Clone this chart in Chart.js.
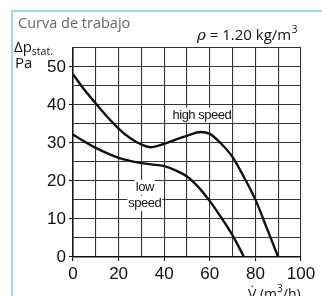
<!DOCTYPE html>
<html><head><meta charset="utf-8">
<script src="https://cdn.jsdelivr.net/npm/chart.js@4/dist/chart.umd.min.js"></script>
<style>html,body{margin:0;padding:0;background:#fff;}canvas{display:block;}</style>
</head><body>
<canvas id="c" width="322" height="296"></canvas>
<script>
// Data
const highFlow = [0, 5, 10, 15, 20, 25, 30, 34, 40, 45, 50, 56, 60, 65, 70, 75, 80, 85, 90];
const highPressure = [48.1, 44, 40.4, 36.9, 33.8, 31.3, 29.6, 28.9, 29.8, 30.9, 31.9, 32.9, 32.4, 29.8, 26.3, 21, 15.1, 7.6, 0];
const lowFlow = [0, 10, 20, 30, 40, 45, 50, 55, 60, 65, 70, 75];
const lowPressure = [32.2, 28.7, 26.1, 24.7, 23.9, 22.8, 21.2, 18.4, 14.7, 10.4, 5.7, 0];
const xTickLabels = [0, 20, 40, 60, 80, 100];
const yTickLabels = [0, 10, 20, 30, 40, 50];

const toPts = (xs, ys) => xs.map((x, i) => ({x: x, y: ys[i]}));

const textPlugin = {
  id: 'texts',
  beforeDraw(chart) {
    const ctx = chart.ctx;
    ctx.save();
    ctx.fillStyle = '#fff';
    ctx.fillRect(0, 0, chart.width, chart.height);
    ctx.strokeStyle = '#9fd8f0';
    ctx.lineWidth = 2;
    ctx.strokeRect(12, 11, 400, 400);
    ctx.restore();
  },
  afterDraw(chart) {
    const ctx = chart.ctx;
    ctx.save();
    ctx.textBaseline = 'alphabetic';
    ctx.fillStyle = '#666';
    ctx.font = '14.5px "Open Sans"';
    ctx.textAlign = 'left';
    ctx.fillText('Curva de trabajo', 18, 28);
    ctx.fillStyle = '#111';
    ctx.font = 'italic 15px "DejaVu Serif"';
    ctx.fillText('\u03C1', 197, 40);
    const wr = ctx.measureText('\u03C1').width;
    ctx.font = '15px "Open Sans"';
    ctx.fillText(' = 1.20 kg/m', 197 + wr, 40);
    const w = wr + ctx.measureText(' = 1.20 kg/m').width;
    ctx.font = '10px "Open Sans"';
    ctx.fillText('3', 197 + w + 0.5, 33);
    // y axis title
    ctx.font = '15px "Open Sans"';
    ctx.fillText('\u0394p', 14, 52);
    const w2 = ctx.measureText('\u0394p').width;
    ctx.font = '10.5px "Open Sans"';
    ctx.fillText('stat.', 14 + w2, 55);
    ctx.font = '15px "Open Sans"';
    ctx.fillText('Pa', 15, 68);
    // x axis title
    ctx.font = '14px "Open Sans"';
    ctx.fillText('V\u0307 (m', 248, 299);
    let w3 = ctx.measureText('V\u0307 (m').width;
    ctx.font = '10px "Open Sans"';
    ctx.fillText('3', 248 + w3, 292);
    let w4 = ctx.measureText('3').width;
    ctx.font = '14px "Open Sans"';
    ctx.fillText('/h)', 248 + w3 + w4, 299);

    // curve labels with white background
    const xs = chart.scales.x, ys = chart.scales.y;
    const label = (txt, vx, vy) => {
      ctx.font = '13px "Liberation Sans"';
      ctx.letterSpacing = '-0.5px';
      const cx = xs.getPixelForValue(vx), cy = ys.getPixelForValue(vy);
      const tw = ctx.measureText(txt).width;
      ctx.fillStyle = '#fff';
      ctx.fillRect(cx - tw / 2 - 1, cy - 8, tw + 2, 15);
      ctx.fillStyle = '#111';
      ctx.textAlign = 'center';
      ctx.textBaseline = 'middle';
      ctx.fillText(txt, cx, cy);
    };
    label('high speed', 56.5, 37.2);
    label('low', 31.5, 18.2);
    label('speed', 31.5, 14.0);
    ctx.restore();
  }
};

new Chart(document.getElementById('c'), {
  type: 'line',
  data: {
    datasets: [
      {data: toPts(highFlow, highPressure), borderColor: '#111', borderWidth: 2.4, pointRadius: 0, cubicInterpolationMode: 'monotone', fill: false},
      {data: toPts(lowFlow, lowPressure), borderColor: '#111', borderWidth: 2.4, pointRadius: 0, cubicInterpolationMode: 'monotone', fill: false}
    ]
  },
  options: {
    responsive: false,
    animation: false,
    events: [],
    layout: {padding: {left: 0, top: 48, right: 21, bottom: 0}},
    plugins: {legend: {display: false}, tooltip: {enabled: false}, title: {display: false}},
    scales: {
      x: {
        type: 'linear', min: 0, max: 100,
        afterFit(s) { s.height = 39; },
        ticks: {stepSize: 10, color: '#111', padding: 3, maxRotation: 0, autoSkip: false,
          font: {family: '"Liberation Sans", Arial', size: 17},
          callback: v => xTickLabels.includes(v) ? String(v) : ''},
        grid: {color: '#333', lineWidth: 1.1, tickLength: 4,
          tickColor: c => xTickLabels.includes(c.tick && c.tick.value) ? '#111' : 'rgba(0,0,0,0)'},
        border: {color: '#111', width: 1.5}
      },
      y: {
        type: 'linear', min: 0, max: 55,
        afterFit(s) { s.width = 73; },
        ticks: {stepSize: 5, color: '#111', padding: 3, autoSkip: false,
          font: {family: '"Liberation Sans", Arial', size: 17},
          callback: v => yTickLabels.includes(v) ? String(v) : ''},
        grid: {color: '#333', lineWidth: 1.1, tickLength: 4,
          tickColor: c => yTickLabels.includes(c.tick && c.tick.value) ? '#111' : 'rgba(0,0,0,0)'},
        border: {color: '#111', width: 1.5}
      }
    }
  },
  plugins: [textPlugin]
});
</script>
</body></html>
